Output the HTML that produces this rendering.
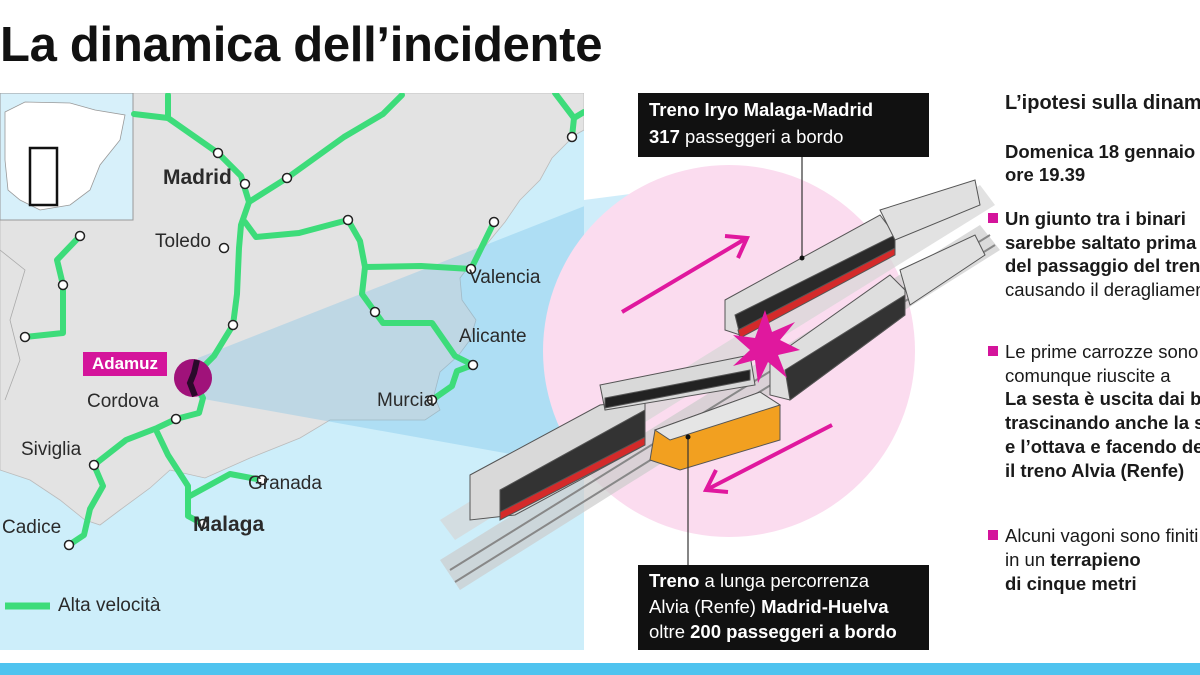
<!DOCTYPE html>
<html><head><meta charset="utf-8"><style>
html,body{margin:0;padding:0;background:#fff;}
body{width:1200px;height:675px;overflow:hidden;position:relative;font-family:"Liberation Sans",sans-serif;}
.t{position:absolute;white-space:nowrap;color:#222;}
.m{font-size:19px;color:#2a2a2a;}
.r{font-size:18.5px;color:#1a1a1a;}
b{font-weight:bold;}
.sq{position:absolute;width:10px;height:10px;background:#d4149b;}
#col{position:absolute;left:980px;top:80px;width:220px;height:580px;overflow:hidden;}
</style></head><body>
<svg width="1200" height="675" style="position:absolute;left:0;top:0">
<defs>
<clipPath id="mc"><rect x="0" y="93" width="584" height="557"/></clipPath>
</defs>
<g clip-path="url(#mc)">
<rect x="0" y="93" width="584" height="557" fill="#cdeefa"/>
<path d="M0,93 L584,93 L584,130 L575,135 L552,158 L540,180 L520,200 L505,222 L486,245 L470,265 L460,278 L462,300 L476,320 L470,340 L458,356 L440,372 L434,395 L440,410 L425,420 L380,420 L330,420 L300,438 L250,458 L205,478 L170,470 L150,488 L120,510 L100,525 L85,520 L60,500 L30,480 L0,470 Z" fill="#e3e3e3" stroke="#bbb" stroke-width="0.8"/>
<path d="M0,250 L25,270 L10,320 L20,360 L5,400" fill="none" stroke="#aaa" stroke-width="0.8"/>
<polygon points="198,358 198,398 600,470 600,200" fill="#5fb8e6" opacity="0.28"/>
<rect x="0" y="93" width="133" height="127" fill="#d7f0fa" stroke="#999" stroke-width="1"/>
<path d="M5,112 L25,102 L70,103 L95,110 L125,115 L120,140 L100,165 L90,190 L70,205 L40,210 L20,200 L8,190 L5,160 Z" fill="#fff" stroke="#999" stroke-width="0.8"/>
<rect x="30" y="148" width="27" height="57" fill="none" stroke="#111" stroke-width="2.5"/>
<g fill="none" stroke="#3ddc7a" stroke-width="6" stroke-linejoin="round" stroke-linecap="round">
<path d="M168,95 L168,118 L218,153 L241,176 L249,202 L241,225 L239,248 L237,294 L233,325 L214,356 L199,371 L193,380 L203,398 L199,413 L176,419 L157,428 L126,440 L94,465 L103,486 L90,509 L84,535 L69,545"/>
<path d="M134,114 L168,118"/>
<path d="M157,432 L168,455 L188,486 L188,516 L203,524"/>
<path d="M188,497 L230,474 L262,480"/>
<path d="M249,202 L287,178 L344,137 L383,114 L402,95"/>
<path d="M245,222 L256,237 L299,233 L348,220 L360,241 L365,267 L421,266 L471,269 L494,222"/>
<path d="M365,267 L362,294 L375,312 L383,323 L432,323 L455,356 L473,365 L457,371 L452,386 L432,400"/>
<path d="M555,93 L574,118 L572,137 M574,118 L584,112"/>
<path d="M80,236 L57,260 L63,285 L63,333 L25,337"/>
</g>
<g fill="#fff" stroke="#222" stroke-width="1.5">
<circle cx="245" cy="184" r="4.5"/><circle cx="218" cy="153" r="4.5"/><circle cx="287" cy="178" r="4.5"/>
<circle cx="224" cy="248" r="4.5"/><circle cx="348" cy="220" r="4.5"/><circle cx="494" cy="222" r="4.5"/>
<circle cx="471" cy="269" r="4.5"/><circle cx="375" cy="312" r="4.5"/><circle cx="233" cy="325" r="4.5"/>
<circle cx="473" cy="365" r="4.5"/><circle cx="432" cy="400" r="4.5"/><circle cx="176" cy="419" r="4.5"/>
<circle cx="94" cy="465" r="4.5"/><circle cx="69" cy="545" r="4.5"/><circle cx="203" cy="524" r="4.5"/>
<circle cx="262" cy="480" r="4.5"/><circle cx="572" cy="137" r="4.5"/><circle cx="80" cy="236" r="4.5"/>
<circle cx="63" cy="285" r="4.5"/><circle cx="25" cy="337" r="4.5"/>
</g>
<circle cx="193" cy="378" r="19" fill="#a0127a"/>
<path d="M197,360 L194,373 L190,383 L195,396" stroke="#2a0a2a" stroke-width="6" fill="none"/>
<line x1="5" y1="606" x2="50" y2="606" stroke="#3ddc7a" stroke-width="7"/>
</g>
<polygon points="584,200 700,185 700,470 584,465" fill="#9fdcf5" opacity="0.5"/>
<circle cx="729" cy="351" r="186" fill="#fbdcef"/>
<g>
<polygon points="440,560 980,225 1000,250 460,590" fill="#ccc" opacity="0.7"/>
<polygon points="440,520 980,185 995,205 455,540" fill="#d5d5d5" opacity="0.7"/>
<line x1="450" y1="570" x2="990" y2="235" stroke="#888" stroke-width="2"/>
<line x1="455" y1="582" x2="995" y2="245" stroke="#888" stroke-width="2"/>
</g>
<g stroke="#555" stroke-width="1">
<polygon points="470,475 600,405 645,400 645,445 515,515 470,520" fill="#d9d9d9"/>
<polygon points="500,490 645,410 645,440 500,515" fill="#333"/>
<polygon points="500,512 645,437 645,445 500,520" fill="#d42a2a"/>
<polygon points="600,385 750,355 755,385 605,410" fill="#d9d9d9"/>
<polygon points="605,398 750,370 750,380 605,408" fill="#222"/>
<polygon points="725,300 880,215 895,235 895,250 740,335 725,330" fill="#dcdcdc"/>
<polygon points="735,315 895,235 895,250 740,335" fill="#2a2a2a"/>
<polygon points="738,330 895,248 895,255 740,338" fill="#d42a2a"/>
<polygon points="880,210 975,180 980,205 895,240" fill="#e0e0e0"/>
<polygon points="770,360 890,275 905,290 905,315 790,400 770,395" fill="#dedede"/>
<polygon points="785,370 905,295 905,315 790,400" fill="#333"/>
<polygon points="900,270 975,235 985,255 910,305" fill="#e0e0e0"/>
<polygon points="655,430 760,392 780,405 780,440 680,470 650,460" fill="#f2a020"/>
<polygon points="655,430 760,392 780,405 670,440" fill="#e5e5e5"/>
</g>
<polygon points="765,310 772,332 795,322 780,340 800,350 778,355 787,378 768,362 758,383 755,360 733,366 750,350 733,335 755,338" fill="#e0189e"/>
<g stroke="#e0189e" stroke-width="4" fill="none">
<line x1="622" y1="312" x2="745" y2="239"/><polyline points="725,236 747,238 738,258"/>
<line x1="832" y1="425" x2="708" y2="489"/><polyline points="716,470 706,490 728,492"/>
</g>
<line x1="802" y1="157" x2="802" y2="258" stroke="#333" stroke-width="1.2"/><circle cx="802" cy="258" r="2.5" fill="#111"/>
<line x1="688" y1="437" x2="688" y2="565" stroke="#333" stroke-width="1.2"/><circle cx="688" cy="437" r="2.5" fill="#111"/>
<rect x="638" y="93" width="291" height="64" fill="#111"/>
<rect x="638" y="565" width="291" height="85" fill="#111"/>
<rect x="0" y="663" width="1200" height="12" fill="#4fc3ef"/>
</svg>
<div class="t" style="left:0;top:17px;font-size:49px;font-weight:bold;color:#111;letter-spacing:-0.3px">La dinamica dell’incidente</div>
<div class="t m" style="left:163px;top:166px;font-size:21px;font-weight:bold">Madrid</div>
<div class="t m" style="left:155px;top:231px">Toledo</div>
<div class="t m" style="left:469px;top:267px">Valencia</div>
<div class="t m" style="left:459px;top:326px">Alicante</div>
<div class="t m" style="left:377px;top:390px">Murcia</div>
<div class="t m" style="left:87px;top:391px">Cordova</div>
<div class="t m" style="left:21px;top:439px">Siviglia</div>
<div class="t m" style="left:248px;top:473px">Granada</div>
<div class="t m" style="left:193px;top:513px;font-size:21px;font-weight:bold">Malaga</div>
<div class="t m" style="left:2px;top:517px">Cadice</div>
<div class="t" style="left:83px;top:352px;width:84px;height:24px;background:#d4149b;color:#fff;font-size:17px;font-weight:bold;line-height:24px;text-align:center">Adamuz</div>
<div class="t m" style="left:58px;top:595px">Alta velocità</div>
<div class="t" style="left:649px;top:96px;font-size:18.5px;color:#fff;line-height:27px"><b>Treno Iryo Malaga-Madrid</b><br><b>317</b> passeggeri a bordo</div>
<div class="t" style="left:649px;top:568px;font-size:18.5px;color:#fff;line-height:25.5px"><b>Treno</b> a lunga percorrenza<br>Alvia (Renfe) <b>Madrid-Huelva</b><br>oltre <b>200 passeggeri a bordo</b></div>
<div id="col">
<div class="t r" style="left:25px;top:12px;font-size:20px;font-weight:bold">L’ipotesi sulla dinamica</div>
<div class="t r" style="left:25px;top:60px;font-weight:bold;line-height:23px">Domenica 18 gennaio<br>ore 19.39</div>
<div class="sq" style="left:8px;top:133px"></div>
<div class="t r" style="left:25px;top:127px;line-height:23.5px"><b>Un giunto tra i binari</b><br><b>sarebbe saltato prima</b><br><b>del passaggio del treno</b><br>causando il deragliamento</div>
<div class="sq" style="left:8px;top:266px"></div>
<div class="t r" style="left:25px;top:260px;line-height:23.7px">Le prime carrozze sono<br>comunque riuscite a<br><b>La sesta è uscita dai binari</b><br><b>trascinando anche la settima</b><br><b>e l’ottava e facendo deragliare</b><br><b>il treno Alvia (Renfe)</b></div>
<div class="sq" style="left:8px;top:450px"></div>
<div class="t r" style="left:25px;top:444px;line-height:24px">Alcuni vagoni sono finiti<br>in un <b>terrapieno</b><br><b>di cinque metri</b></div>
</div>
</body></html>
